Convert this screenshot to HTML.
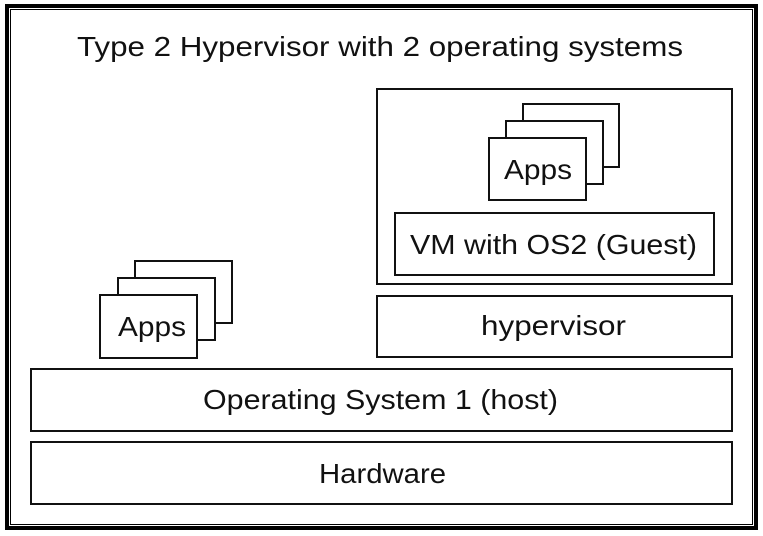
<!DOCTYPE html>
<html><head><style>body{margin:0;background:#fff}svg{display:block}text{font-family:"Liberation Sans",sans-serif;fill:#111;font-size:28px}</style></head><body>
<svg width="763" height="536" viewBox="0 0 763 536">
<rect x="0" y="0" width="763" height="536" fill="#fff"/>
<rect x="7" y="6" width="749" height="522" fill="none" stroke="#000" stroke-width="4"/>
<rect x="10.5" y="9.5" width="742" height="515" fill="none" stroke="#000" stroke-width="1"/>
<text x="77" y="56" textLength="606" lengthAdjust="spacingAndGlyphs">Type 2 Hypervisor with 2 operating systems</text>
<g fill="#fff" stroke="#111" stroke-width="2">
<rect x="377" y="89" width="355" height="195"/>
<rect x="523" y="104" width="96" height="63"/>
<rect x="506" y="121" width="97" height="63"/>
<rect x="489" y="138" width="97" height="62"/>
<rect x="395" y="213" width="319" height="62"/>
<rect x="377" y="296" width="355" height="61"/>
<rect x="135" y="261" width="97" height="62"/>
<rect x="118" y="278" width="97" height="62"/>
<rect x="100" y="295" width="97" height="63"/>
<rect x="31" y="369" width="701" height="62"/>
<rect x="31" y="442" width="701" height="62"/>
</g>
<text x="504" y="179" textLength="68" lengthAdjust="spacingAndGlyphs">Apps</text>
<text x="410" y="254" textLength="287" lengthAdjust="spacingAndGlyphs">VM with OS2 (Guest)</text>
<text x="481" y="335" textLength="145" lengthAdjust="spacingAndGlyphs">hypervisor</text>
<text x="118" y="336" textLength="68" lengthAdjust="spacingAndGlyphs">Apps</text>
<text x="203" y="409" textLength="355" lengthAdjust="spacingAndGlyphs">Operating System 1 (host)</text>
<text x="319" y="483" textLength="127" lengthAdjust="spacingAndGlyphs">Hardware</text>
</svg>
</body></html>
